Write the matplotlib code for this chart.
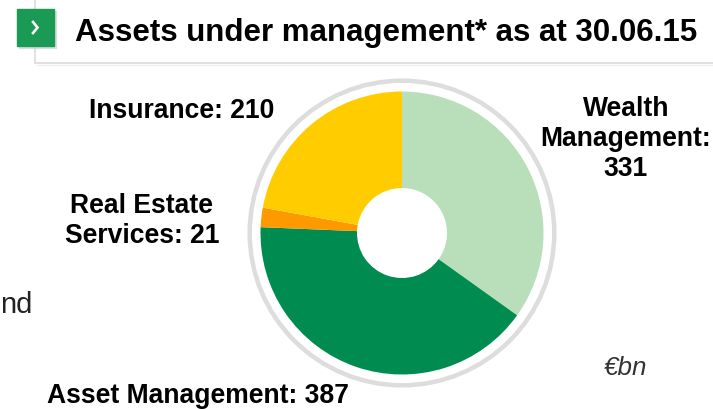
import matplotlib.pyplot as plt
from matplotlib.patches import Circle, Rectangle
from matplotlib.lines import Line2D

# assets under management, EUR bn
segments = ['Wealth Management', 'Asset Management', 'Real Estate Services', 'Insurance']
values = [331, 387, 21, 210]
colors = ['#b8dfba', '#008c50', '#ff9900', '#ffcc00']
labels = ['Wealth\nManagement:\n331', 'Asset Management: 387',
          'Real Estate\nServices: 21', 'Insurance: 210']

title = 'Assets under management* as at 30.06.15'
unit = '€bn'

W, H = 713, 409
fig = plt.figure(figsize=(W / 100, H / 100), dpi=100)
ax = fig.add_axes([0, 0, 1, 1])
ax.set_xlim(0, W)
ax.set_ylim(0, H)
ax.set_aspect('equal')
ax.axis('off')

px = 0.72  # pixels -> points

# header frame
ax.add_line(Line2D([35, 35], [H, H - 63], color='#dadada', lw=1.6 * px))
ax.add_line(Line2D([35, W], [H - 63, H - 63], color='#dadada', lw=1.6 * px))
ax.add_line(Line2D([36, W], [H - 64.5, H - 64.5], color='#efefef', lw=1.2 * px))

# green icon with chevron
ax.add_patch(Rectangle((19, H - 48), 37, 37, color='#cfcfcf', alpha=0.6, zorder=2))
ax.add_patch(Rectangle((17, H - 46), 37, 37, color='#1a9a55', zorder=3))
ax.add_line(Line2D([33, 37.5, 33], [H - 22, H - 27.5, H - 33], color='white',
                   lw=2.6 * px, solid_joinstyle='miter', zorder=4))

ax.text(75, H - 41.5, title, fontsize=31.3 * px, fontweight='bold',
        family='Liberation Sans', color='black', va='baseline', ha='left')

# donut
cx, cy = 402, H - 233
r_out, r_in = 141.5, 45
ax.pie(values, colors=colors, startangle=90, counterclock=False,
       center=(cx, cy), radius=r_out, frame=True,
       wedgeprops=dict(width=r_out - r_in, linewidth=0))
ax.set_xlim(0, W)
ax.set_ylim(0, H)
ax.axis('off')
ax.add_patch(Circle((cx, cy), 152.3, fill=False, ec='#dddddd', lw=4.5 * px))

lab_kw = dict(fontsize=26.5 * px, fontweight='bold', family='Liberation Sans',
              color='black', ha='center', va='baseline', linespacing=1.2)
ax.text(626, H - 176.5, labels[0], **lab_kw)
ax.text(198, H - 403, labels[1], **lab_kw)
ax.text(142, H - 243, labels[2], **lab_kw)
ax.text(181.5, H - 118, labels[3], **lab_kw)

# body text running in from the left
ax.text(0, H - 313, 'nd', fontsize=29 * px, family='Liberation Sans',
        color='#222222', ha='left', va='baseline')

ax.text(626, H - 375, unit, fontsize=26 * px, style='italic', family='Liberation Sans',
        color='#333333', ha='center', va='baseline')

fig.savefig('out.png', dpi=100)
